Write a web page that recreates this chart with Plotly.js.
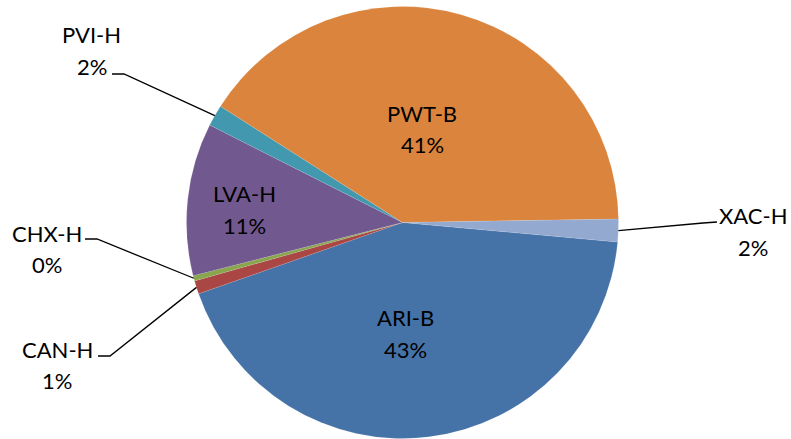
<!DOCTYPE html>
<html><head><meta charset="utf-8">
<script src="https://cdn.plot.ly/plotly-3.0.1.min.js"></script>
<style>html,body{margin:0;padding:0;background:#fff}#chart{width:791px;height:439px}</style>
</head><body><div id="chart"></div>
<script>
// ---- data ----
const labels = ['ARI-B', 'CAN-H', 'CHX-H', 'LVA-H', 'PVI-H', 'PWT-B', 'XAC-H'];
const values = [43.2, 1.0, 0.4, 11.4, 1.6, 40.7, 1.7];
const colors = ['#4572A7', '#AA4643', '#89A54E', '#71588F', '#4198AF', '#DB843D', '#93A9CF'];

// ---- layout geometry ----
const W = 791, H = 439;
const CX = 402.5, CY = 222.5, R = 216;
const ROT = 95.2;
const px = x => x / W, py = y => 1 - y / H;

const total = values.reduce((a, b) => a + b, 0);
const pctText = values.map(v => Math.round(v / total * 100) + '%');
let acc = 0;
const midAngle = values.map(v => { const m = ROT + (acc + v / 2) / total * 360; acc += v; return m; });
function edgePoint(i) {
  const a = midAngle[i] * Math.PI / 180;
  return [CX + R * Math.sin(a), CY - R * Math.cos(a)];
}

// label placement (pixel layout positions)
const place = {
  'ARI-B': {x: 405, y1: 317, y2: 349},
  'LVA-H': {x: 245, y1: 193.5, y2: 225.5},
  'PWT-B': {x: 422, y1: 113, y2: 144},
  'PVI-H': {x: 91.5, y1: 34.5, y2: 67, elbow: [124, 74], end: [112, 74]},
  'CHX-H': {x: 46.5, y1: 233, y2: 264.5, elbow: [97, 239], end: [85, 239]},
  'CAN-H': {x: 57, y1: 349, y2: 380.5, elbow: [110, 356], end: [98, 356]},
  'XAC-H': {x: 753, y1: 215, y2: 247, elbow: [703, 223], end: [717, 222]}
};

const font = {family: 'Lato, "Open Sans", sans-serif', size: 22, color: '#000000'};
const annotations = [];
const shapes = [];
labels.forEach((lab, i) => {
  const p = place[lab];
  annotations.push({xref: 'paper', yref: 'paper', x: px(p.x), y: py(p.y1), xanchor: 'center', yanchor: 'middle',
    text: lab, showarrow: false, font: font});
  annotations.push({xref: 'paper', yref: 'paper', x: px(p.x), y: py(p.y2), xanchor: 'center', yanchor: 'middle',
    text: pctText[i], showarrow: false, font: font});
  if (p.elbow) {
    const e = edgePoint(i);
    shapes.push({type: 'path', xref: 'paper', yref: 'paper',
      path: `M ${px(e[0])},${py(e[1])} L ${px(p.elbow[0])},${py(p.elbow[1])} L ${px(p.end[0])},${py(p.end[1])}`,
      line: {color: '#000000', width: 1.3}});
  }
});

const trace = {
  type: 'pie',
  labels: labels,
  values: values,
  sort: false,
  direction: 'clockwise',
  rotation: ROT,
  textinfo: 'none',
  hoverinfo: 'label+percent',
  marker: {colors: colors, line: {color: 'rgba(255,255,255,0.35)', width: 0.3}},
  domain: {x: [px(CX - R), px(CX + R)], y: [py(CY + R), py(CY - R)]},
  showlegend: false
};

Plotly.newPlot('chart', [trace], {
  width: W, height: H,
  margin: {l: 0, r: 0, t: 0, b: 0},
  paper_bgcolor: '#ffffff',
  showlegend: false,
  annotations: annotations,
  shapes: shapes
}, {displayModeBar: false, staticPlot: true});
</script></body></html>
